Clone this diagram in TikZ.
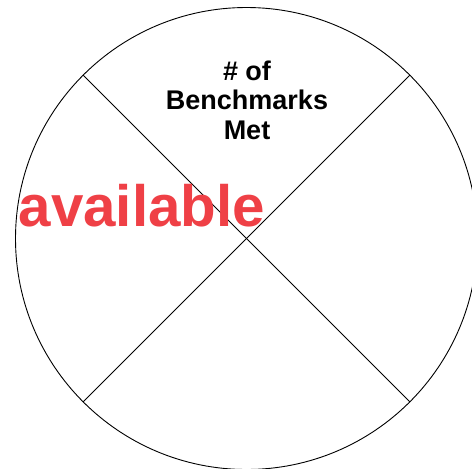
\documentclass[tikz,border=0pt]{standalone}
\usepackage{fontspec}
\setmainfont{Liberation Sans}
\usetikzlibrary{calc}
\definecolor{avred}{RGB}{239,64,70}
\begin{document}
\begin{tikzpicture}[x=1pt,y=1pt,
  ring/.style={draw=black,line width=0.9pt},
  divider/.style={draw=black,line width=0.9pt},
  title/.style={font=\fontsize{27}{29.5}\selectfont\bfseries,align=center,inner sep=0pt},
  wm/.style={font=\fontsize{58.3}{61}\selectfont\bfseries,text=avred,inner sep=0pt}]
\useasboundingbox (0,0) rectangle (472,-469);
\clip (0,0) rectangle (472,-469);
\coordinate (c) at (246.5,-238.5);
\draw[ring] (c) circle (231);
\coordinate (tl) at ($(c)+(135:231)$);
\coordinate (tr) at ($(c)+(45:231)$);
\coordinate (bl) at ($(c)+(225:231)$);
\coordinate (br) at ($(c)+(-45:231)$);
\draw[divider] (tl) -- (br);
\draw[divider] (tr) -- (bl);
\node[title,anchor=base] (t) at (247,-139) {\# of\\Benchmarks\\Met};
\node[wm,anchor=base west] (w) at (18.5,-226) {available};
\end{tikzpicture}
\end{document}
